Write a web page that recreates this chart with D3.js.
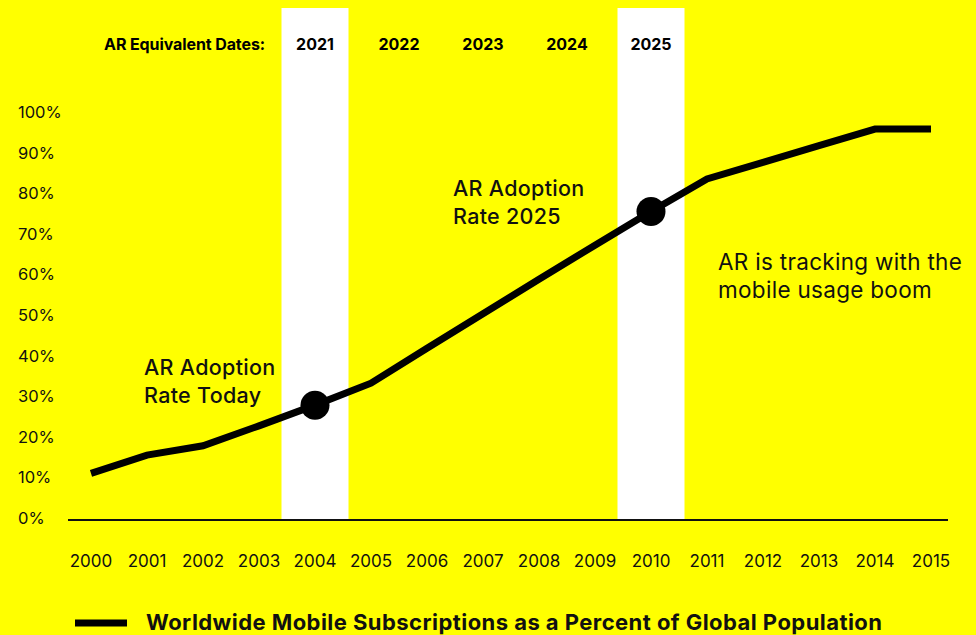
<!DOCTYPE html>
<html>
<head>
<meta charset="utf-8">
<script src="https://cdn.jsdelivr.net/npm/d3@7"></script>
<style>
  html, body { margin: 0; padding: 0; background: #ffff00; }
  svg { display: block; }
</style>
</head>
<body>
<div id="chart"></div>
<script>
// data
const years = [2000, 2001, 2002, 2003, 2004, 2005, 2006, 2007, 2008, 2009, 2010, 2011, 2012, 2013, 2014, 2015];
const mobilePct = [11, 15.5, 17.8, 22.7, 27.8, 33.2, 41.8, 50.3, 58.8, 67.2, 75.5, 83.5, 87.6, 91.7, 95.8, 95.8];
const yTicks = [0, 10, 20, 30, 40, 50, 60, 70, 80, 90, 100];
const arYears = [2021, 2022, 2023, 2024, 2025];
const highlightYears = [2004, 2010];
const legendLabel = 'Worldwide Mobile Subscriptions as a Percent of Global Population';

const width = 976;
const height = 635;
const yellow = '#ffff00';

const svg = d3.select('#chart')
  .append('svg')
  .attr('width', width)
  .attr('height', height);

svg.append('rect')
  .attr('width', width)
  .attr('height', height)
  .attr('fill', yellow);

const x = d3.scaleLinear().domain([2000, 2015]).range([91, 931]);
const y = d3.scaleLinear().domain([0, 100]).range([518, 112]);
// AR years sit between the two highlighted mobile years
const arX = d3.scaleLinear().domain([2021, 2025]).range([x(2004), x(2010)]);

const font = 'Inter, "Open Sans", sans-serif';
const boldFont = 'Inter, Roboto, sans-serif';

// white highlight bands
const bandW = 67;
svg.selectAll('.band')
  .data(highlightYears)
  .enter()
  .append('rect')
  .attr('class', 'band')
  .attr('x', (d) => x(d) - bandW / 2)
  .attr('y', 8)
  .attr('width', bandW)
  .attr('height', 512)
  .attr('fill', '#ffffff');

// top row of AR equivalent dates
svg.append('text')
  .attr('x', 265)
  .attr('y', 50)
  .attr('text-anchor', 'end')
  .style('font-family', boldFont)
  .style('font-weight', 700)
  .style('font-size', '16px')
  .style('letter-spacing', '-0.1px')
  .text('AR Equivalent Dates:');

svg.selectAll('.ar-year')
  .data(arYears)
  .enter()
  .append('text')
  .attr('class', 'ar-year')
  .attr('x', (d) => arX(d))
  .attr('y', 50)
  .attr('text-anchor', 'middle')
  .style('font-family', boldFont)
  .style('font-weight', 700)
  .style('font-size', '16px')
  .text((d) => d);

// y axis labels
svg.selectAll('.y-label')
  .data(yTicks)
  .enter()
  .append('text')
  .attr('class', 'y-label')
  .attr('x', 18)
  .attr('y', (d) => y(d) + 6)
  .style('font-family', font)
  .style('font-size', '16.5px')
  .style('fill', '#111')
  .text((d) => d + '%');

// x axis labels
svg.selectAll('.x-label')
  .data(years)
  .enter()
  .append('text')
  .attr('class', 'x-label')
  .attr('x', (d) => x(d))
  .attr('y', 567)
  .attr('text-anchor', 'middle')
  .style('font-family', font)
  .style('font-size', '17px')
  .style('fill', '#111')
  .text((d) => d);

// baseline
svg.append('line')
  .attr('x1', 68)
  .attr('x2', 948)
  .attr('y1', y(0) + 2)
  .attr('y2', y(0) + 2)
  .style('stroke', '#111')
  .style('stroke-width', '2px');

// main line
const line = d3.line()
  .x((d, i) => x(years[i]))
  .y((d) => y(d));

svg.append('path')
  .datum(mobilePct)
  .attr('d', line)
  .style('fill', 'none')
  .style('stroke', '#000')
  .style('stroke-width', '7px')
  .style('stroke-linejoin', 'miter');

// dots on highlighted years
svg.selectAll('.dot')
  .data(highlightYears)
  .enter()
  .append('circle')
  .attr('class', 'dot')
  .attr('cx', (d) => x(d))
  .attr('cy', (d) => y(mobilePct[years.indexOf(d)]))
  .attr('r', 14.5)
  .style('fill', '#000');

// annotations
const notes = [
  { lines: ['AR Adoption', 'Rate Today'], x: 144, y: 375, weight: 500, size: 21.5 },
  { lines: ['AR Adoption', 'Rate 2025'], x: 453, y: 196, weight: 500, size: 21.5 },
  { lines: ['AR is tracking with the', 'mobile usage boom'], x: 718, y: 270, weight: 400, size: 22.5 }
];

notes.forEach((n) => {
  const t = svg.append('text')
    .attr('x', n.x)
    .attr('y', n.y)
    .style('font-family', font)
    .style('font-weight', n.weight)
    .style('font-size', n.size + 'px')
    .style('letter-spacing', '0.3px')
    .style('fill', '#111');
  n.lines.forEach((l, i) => {
    t.append('tspan')
      .attr('x', n.x)
      .attr('dy', i === 0 ? 0 : 28)
      .text(l);
  });
});

// legend
svg.append('line')
  .attr('x1', 75)
  .attr('x2', 127)
  .attr('y1', 623)
  .attr('y2', 623)
  .style('stroke', '#000')
  .style('stroke-width', '7px');

svg.append('text')
  .attr('x', 146)
  .attr('y', 630)
  .style('font-family', boldFont)
  .style('font-weight', 700)
  .style('font-size', '22px')
  .style('letter-spacing', '0.45px')
  .style('fill', '#111')
  .text(legendLabel);
</script>
</body>
</html>
